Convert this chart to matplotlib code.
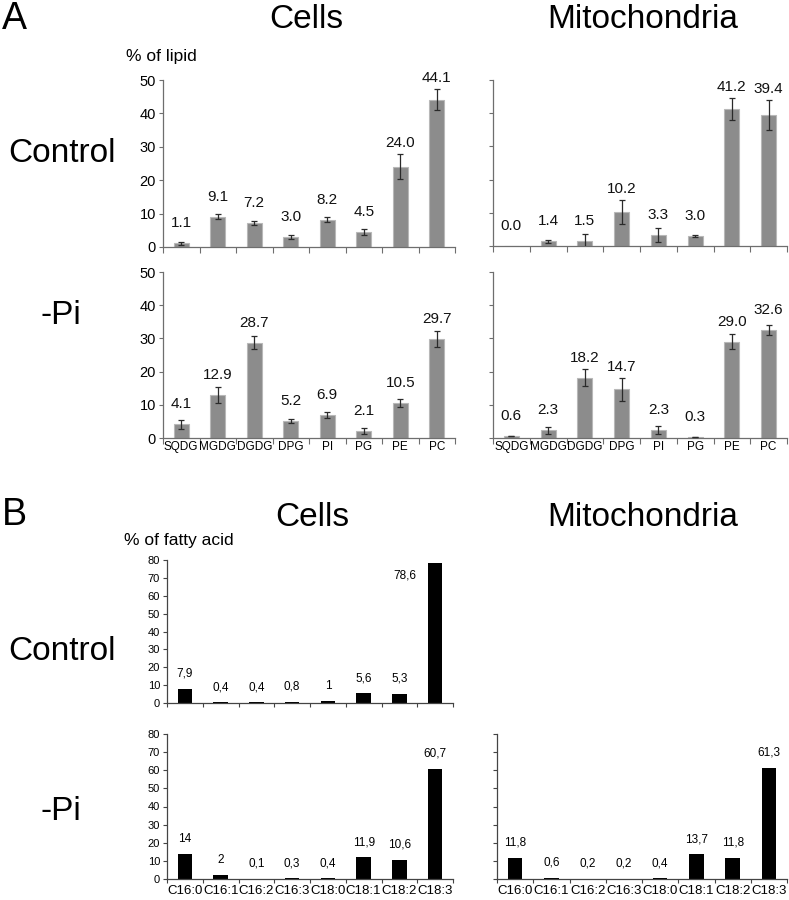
import matplotlib
matplotlib.use("Agg")
import matplotlib.pyplot as plt
import numpy as np

plt.rcParams['font.family'] = ['Liberation Sans', 'DejaVu Sans']

# ---------------- data ----------------
lipids = ["SQDG", "MGDG", "DGDG", "DPG", "PI", "PG", "PE", "PC"]
cells_ctrl = [1.1, 9.1, 7.2, 3.0, 8.2, 4.5, 24.0, 44.1]
cells_ctrl_err = [0.5, 0.7, 0.6, 0.5, 0.8, 0.9, 3.7, 3.2]
mito_ctrl = [0.0, 1.4, 1.5, 10.2, 3.3, 3.0, 41.2, 39.4]
mito_ctrl_err = [0.0, 0.5, 2.1, 3.6, 2.0, 0.2, 3.3, 4.5]
cells_pi = [4.1, 12.9, 28.7, 5.2, 6.9, 2.1, 10.5, 29.7]
cells_pi_err = [1.4, 2.5, 2.0, 0.6, 0.8, 0.9, 1.1, 2.4]
mito_pi = [0.6, 2.3, 18.2, 14.7, 2.3, 0.3, 29.0, 32.6]
mito_pi_err = [0.1, 1.0, 2.6, 3.5, 1.2, 0.1, 2.2, 1.5]
lipid_ticks = [0, 10, 20, 30, 40, 50]

fatty = ["C16:0", "C16:1", "C16:2", "C16:3", "C18:0", "C18:1", "C18:2", "C18:3"]
fa_cells_ctrl = [7.9, 0.4, 0.4, 0.8, 1, 5.6, 5.3, 78.6]
fa_cells_pi = [14, 2, 0.1, 0.3, 0.4, 11.9, 10.6, 60.7]
fa_mito_pi = [11.8, 0.6, 0.2, 0.2, 0.4, 13.7, 11.8, 61.3]
fa_ticks = [0, 10, 20, 30, 40, 50, 60, 70, 80]

W, H = 789, 900
fig = plt.figure(figsize=(W / 100, H / 100), dpi=100)


def rect(x0, x1, ytop, ybot):
    return [x0 / W, 1 - ybot / H, (x1 - x0) / W, (ybot - ytop) / H]


def panel_a(r, vals, errs, show_y, show_x):
    ax = fig.add_axes(r)
    n = len(vals)
    x = np.arange(n)
    e = np.array(errs)
    ax.bar(x, vals, width=0.41, color="#8c8c8c", edgecolor="#b8b8b8", linewidth=0.8, zorder=2)
    mask = e > 0
    ax.errorbar(x[mask], np.array(vals)[mask], yerr=e[mask], fmt="none", ecolor="#2a2a2a",
                elinewidth=0.9, capsize=2, capthick=0.9, zorder=3)
    for i, (v, er) in enumerate(zip(vals, errs)):
        y = max(v + 3.9, v + er + 1.2)
        ax.text(i, y, f"{v:.1f}", ha="center", va="bottom", fontsize=11, color="#111111")
    ax.set_xlim(-0.5, n - 0.5)
    ax.set_ylim(0, 50)
    ax.set_yticks(lipid_ticks)
    for s in ["top", "right"]:
        ax.spines[s].set_visible(False)
    for s in ["left", "bottom"]:
        ax.spines[s].set_color("#6e6e6e")
        ax.spines[s].set_linewidth(0.9)
    ax.tick_params(axis="y", direction="out", length=3, width=0.8, color="#6e6e6e",
                   labelsize=10.5, pad=2, labelleft=show_y)
    ax.set_xticks(np.arange(-0.5, n, 1.0))
    ax.set_xticks(x, minor=True)
    ax.tick_params(axis="x", which="major", direction="out", length=4, width=0.8,
                   color="#6e6e6e", labelbottom=False)
    ax.tick_params(axis="x", which="minor", length=0, labelsize=8.5, pad=2)
    if show_x:
        ax.set_xticklabels(lipids, minor=True)
    else:
        ax.set_xticklabels([], minor=True)
    return ax


def fmt_fa(v):
    return f"{v:g}".replace(".", ",")


def panel_b(r, vals, show_y, show_x):
    ax = fig.add_axes(r)
    n = len(vals)
    x = np.arange(n)
    ax.bar(x, vals, width=0.4, color="black", zorder=2)
    for i, v in enumerate(vals):
        if v + 5 + 5 > 80:
            ax.text(i - 0.85, v - 7.5, fmt_fa(v), ha="center", va="center", fontsize=8.5)
        else:
            ax.text(i, v + 5, fmt_fa(v), ha="center", va="bottom", fontsize=8.5)
    ax.set_xlim(-0.5, n - 0.5)
    ax.set_ylim(0, 80)
    ax.set_yticks(fa_ticks)
    for s in ["top", "right"]:
        ax.spines[s].set_visible(False)
    for s in ["left", "bottom"]:
        ax.spines[s].set_color("#444444")
        ax.spines[s].set_linewidth(0.9)
    ax.tick_params(axis="y", direction="out", length=3, width=0.8, color="#444444",
                   labelsize=8, pad=2, labelleft=show_y)
    ax.set_xticks(np.arange(-0.5, n, 1.0))
    ax.set_xticks(x, minor=True)
    ax.tick_params(axis="x", which="major", direction="out", length=3, width=0.8,
                   color="#444444", labelbottom=False)
    ax.tick_params(axis="x", which="minor", length=0, labelsize=9.5, pad=4)
    if show_x:
        ax.set_xticklabels(fatty, minor=True)
    else:
        ax.set_xticklabels([], minor=True)
    return ax


# Panel A
panel_a(rect(163, 455, 80, 247), cells_ctrl, cells_ctrl_err, True, False)
panel_a(rect(493, 787, 80, 246), mito_ctrl, mito_ctrl_err, False, False)
panel_a(rect(163, 455, 272, 438), cells_pi, cells_pi_err, True, True)
panel_a(rect(493, 787, 272, 438), mito_pi, mito_pi_err, False, True)

# Panel B
panel_b(rect(167, 453, 560, 703), fa_cells_ctrl, True, False)
panel_b(rect(167, 453, 734, 879), fa_cells_pi, True, True)
panel_b(rect(497, 787, 734, 879), fa_mito_pi, False, True)


def ftext(x, y, s, size, ha="center", va="center"):
    fig.text(x / W, 1 - y / H, s, fontsize=size, ha=ha, va=va, color="black")


ftext(2, 19, "A", 27, ha="left")
ftext(306, 19, "Cells", 24)
ftext(643, 19, "Mitochondria", 24)
ftext(126, 57, "% of lipid", 12.5, ha="left")
ftext(62, 153, "Control", 24)
ftext(61, 315, "-Pi", 24)

ftext(2, 515, "B", 27, ha="left")
ftext(312, 517, "Cells", 24)
ftext(643, 517, "Mitochondria", 24)
ftext(124, 540, "% of fatty acid", 12.5, ha="left")
ftext(62, 652, "Control", 24)
ftext(61, 811, "-Pi", 24)

fig.savefig("out.png", dpi=100)
